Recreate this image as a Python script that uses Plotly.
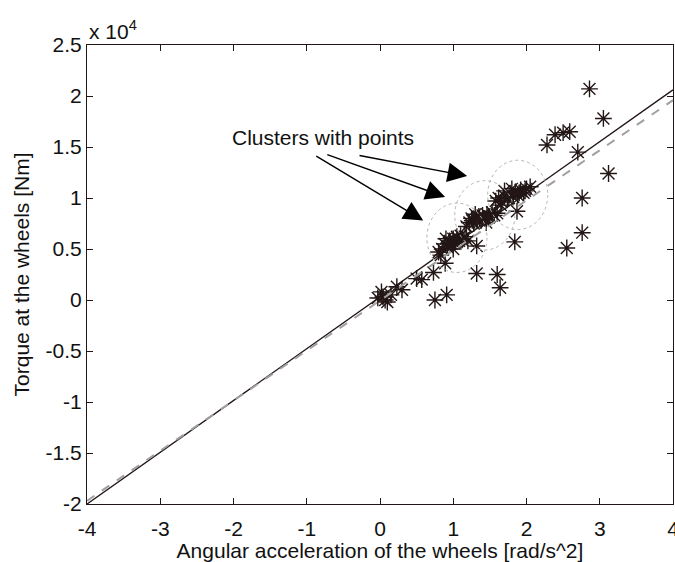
import plotly.graph_objects as go
import numpy as np

# Measured samples: angular acceleration [rad/s^2] vs torque at the wheels [Nm]
accel = [
    # points near the origin and along the lower part of the fit
    -0.03, 0.04, 0.10, 0.02, 0.07, 0.15, 0.23, 0.30, 0.50, 0.57, 0.73, 0.89, 0.75, 0.91, 0.83,
    # first cluster
    0.80, 0.85, 0.88, 0.92, 0.95, 0.98, 1.00, 1.03, 1.05, 1.08, 1.10, 1.13, 1.16, 1.20, 0.90, 1.00,
    0.94, 1.06, 1.12,
    # second cluster
    1.18, 1.22, 1.25, 1.28, 1.32, 1.35, 1.38, 1.40, 1.43, 1.46, 1.50, 1.53, 1.56, 1.60, 1.30, 1.45,
    1.26, 1.36, 1.48,
    # third cluster
    1.58, 1.62, 1.66, 1.70, 1.74, 1.78, 1.82, 1.85, 1.88, 1.92, 1.96, 2.00, 1.70, 1.80, 1.65, 2.05,
    1.76, 1.90, 1.98,
    # scattered samples
    1.32, 1.32, 1.60, 1.64, 1.87, 1.84, 2.28, 2.39, 2.50, 2.59, 2.70, 2.76, 2.76, 2.55, 2.86, 3.05, 3.12,
]
torque = [
    200, 300, -200, 800, 0, 500, 1300, 1000, 2100, 2000, 2700, 3600, 0, 500, 4400,
    4700, 5000, 5500, 5200, 5800, 5500, 6000, 5700, 6200, 5800, 6300, 6000, 6200, 5800, 6000, 5000,
    5600, 6000, 5900,
    7200, 7600, 8000, 7500, 7900, 8200, 7800, 8300, 8000, 8400, 8200, 8600, 8300, 8500, 8400, 7600,
    7800, 8000, 8100,
    9700, 10000, 9600, 10200, 9900, 10400, 10100, 10600, 10300, 10800, 10500, 10900, 10700, 10900, 9300, 11100,
    10000, 10500, 10700,
    5300, 2600, 2500, 1200, 8700, 5700, 15200, 16200, 16400, 16500, 14500, 10000, 6600, 5100, 20700, 17800, 12400,
]

# Linear fits: torque = slope * accel + offset
fit_solid = (5075.0, 300.0)
fit_dashed = (4910.0, -50.0)

# Cluster outlines: centre (accel, torque) and half-widths
cluster_centres = [(1.05, 6100), (1.43, 8300), (1.88, 10300)]
cluster_radius = (0.41, 3400)

x_ticks = [-4, -3, -2, -1, 0, 1, 2, 3, 4]
y_ticks = [-2, -1.5, -1, -0.5, 0, 0.5, 1, 1.5, 2, 2.5]

ink = "#231616"
text_col = "#111111"
font = "Liberation Sans, Arial, Helvetica, sans-serif"
fs = 21

fig = go.Figure()

fig.add_trace(go.Scatter(
    x=accel, y=torque, mode="markers",
    marker=dict(symbol="asterisk-open", size=14, color=ink,
                line=dict(color=ink, width=1.4)),
    showlegend=False, hoverinfo="skip",
))

xl = np.array([-4.0, 4.0])
fig.add_trace(go.Scatter(
    x=xl, y=fit_solid[0] * xl + fit_solid[1], mode="lines",
    line=dict(color=ink, width=1.4), showlegend=False,
))
fig.add_trace(go.Scatter(
    x=xl, y=fit_dashed[0] * xl + fit_dashed[1], mode="lines",
    line=dict(color="#a0a0a0", width=2, dash="dash"), showlegend=False,
))

for cx, cy in cluster_centres:
    fig.add_shape(type="circle", xref="x", yref="y",
                  x0=cx - cluster_radius[0], x1=cx + cluster_radius[0],
                  y0=cy - cluster_radius[1], y1=cy + cluster_radius[1],
                  line=dict(color="#b4b4b4", width=1, dash="dot"))

# Arrows from the label towards the clusters: (tail, tip)
arrow_tails = [(-0.30, 14200), (-0.74, 14300), (-0.89, 14200)]
arrow_tips = [(1.19, 12150), (0.89, 10100), (0.59, 7800)]
for (tx, ty), (hx, hy) in zip(arrow_tails, arrow_tips):
    fig.add_annotation(x=hx, y=hy, ax=tx, ay=ty, xref="x", yref="y",
                       axref="x", ayref="y", text="", showarrow=True,
                       arrowhead=2, arrowsize=2.8, arrowwidth=1.4,
                       arrowcolor="#000000")

fig.add_annotation(x=-0.78, y=15900, xref="x", yref="y", text="Clusters with points",
                   showarrow=False, font=dict(size=fs, color=text_col, family=font))

fig.add_annotation(x=0, y=1, xref="paper", yref="paper", xanchor="left", yanchor="bottom",
                   text="x 10<sup>4</sup>", showarrow=False, yshift=0,
                   font=dict(size=fs, color=text_col, family=font))

axis_common = dict(
    showgrid=False, zeroline=False, showline=True, linecolor=ink, linewidth=1,
    mirror="ticks", ticks="inside", ticklen=6, tickcolor=ink, tickwidth=1,
    ticklabeloverflow="allow", automargin=False,
    tickfont=dict(size=fs, color=text_col, family=font),
)

fig.update_layout(
    width=675, height=562,
    margin=dict(l=87, r=2, t=45, b=58),
    paper_bgcolor="white", plot_bgcolor="white",
    xaxis=dict(range=[-4, 4], tickvals=x_ticks,
               ticktext=[str(v) for v in x_ticks], ticklabelstandoff=6,
               title=dict(text="Angular acceleration of the wheels [rad/s^2]",
                          font=dict(size=fs, color=text_col, family=font), standoff=0),
               **axis_common),
    yaxis=dict(range=[-20000, 25000], tickvals=[v * 1e4 for v in y_ticks],
               ticktext=[("%g" % v) for v in y_ticks],
               title=dict(text="Torque at the wheels [Nm]",
                          font=dict(size=fs, color=text_col, family=font), standoff=10),
               **axis_common),
)

fig.write_html("out.html")
